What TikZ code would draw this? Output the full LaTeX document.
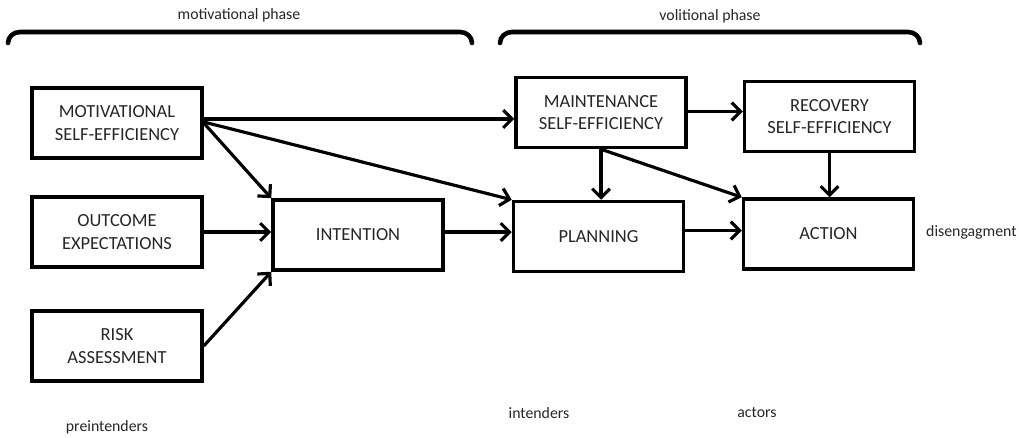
\documentclass[tikz,border=0pt]{standalone}
\usepackage{fontspec}
\setmainfont{Carlito}
\usetikzlibrary{arrows.meta}

\begin{document}
\begin{tikzpicture}[>={Straight Barb[length=5pt,width=10pt]},
    box/.style={draw, line width=2pt, minimum width=3.4cm, minimum height=1.4cm,
      align=center, font=\fontsize{10.5}{13}\selectfont, text=black!85},
    link/.style={->, line width=1.8pt},
    brace/.style={line width=2.6pt, line cap=round},
    lbl/.style={font=\fontsize{9}{11}\selectfont, text=black!85}]
    \useasboundingbox (0,0) rectangle (20.38,8.74);

    % boxes
    \node[box] (mse) at (2.34,6.28) {MOTIVATIONAL\\ SELF-EFFICIENCY};
    \node[box] (oe)  at (2.34,4.10) {OUTCOME\\ EXPECTATIONS};
    \node[box] (ra)  at (2.34,1.82) {RISK\\ ASSESSMENT};
    \node[box] (int) at (7.16,4.04) {INTENTION};
    \node[box] (mai) at (12.02,6.49) {MAINTENANCE\\ SELF-EFFICIENCY};
    \node[box] (pla) at (11.97,4.01) {PLANNING};
    \node[box] (rec) at (16.59,6.41) {RECOVERY\\ SELF-EFFICIENCY};
    \node[box] (act) at (16.57,4.06) {ACTION};

    % arrows
    \draw[link] ([yshift=0.08cm]mse.east) -- ([yshift=0.08cm]mse.east -| mai.west);
    \draw[link] (mse.east) -- (int.north west);
    \draw[link] ([yshift=0.02cm]mse.east) -- (pla.north west);
    \draw[link] (oe.east) -- (oe.east -| int.west);
    \draw[link] (ra.east) -- (int.south west);
    \draw[link] ([yshift=0.06cm]int.east) -- ([yshift=0.06cm]int.east -| pla.west);
    \draw[link] ([yshift=0.02cm]mai.east) -- ([yshift=0.02cm]mai.east -| rec.west);
    \draw[link] (mai.south) -- (mai.south |- pla.north);
    \draw[link] (mai.south) -- (act.north west);
    \draw[link] ([yshift=0.12cm]pla.east) -- ([yshift=0.12cm]pla.east -| act.west);
    \draw[link] (rec.south) -- (rec.south |- act.north);

    % phase braces
    \draw[brace] (0.16,7.88) to[out=90,in=180] (0.40,8.10) -- (9.20,8.10) to[out=0,in=90] (9.44,7.88);
    \draw[brace] (10.00,7.88) to[out=90,in=180] (10.24,8.10) -- (18.16,8.10) to[out=0,in=90] (18.40,7.88);
    \node[lbl] (mph) at (4.78,8.44) {motivational phase};
    \node[lbl] (vph) at (14.20,8.42) {volitional phase};

    % stages
    \node[lbl] (pre) at (2.14,0.20) {preintenders};
    \node[lbl] (inte) at (10.78,0.48) {intenders};
    \node[lbl] (acto) at (15.14,0.48) {actors};
    \node[lbl, anchor=west] (dis) at (18.40,4.10) {disengagment};
\end{tikzpicture}
\end{document}
